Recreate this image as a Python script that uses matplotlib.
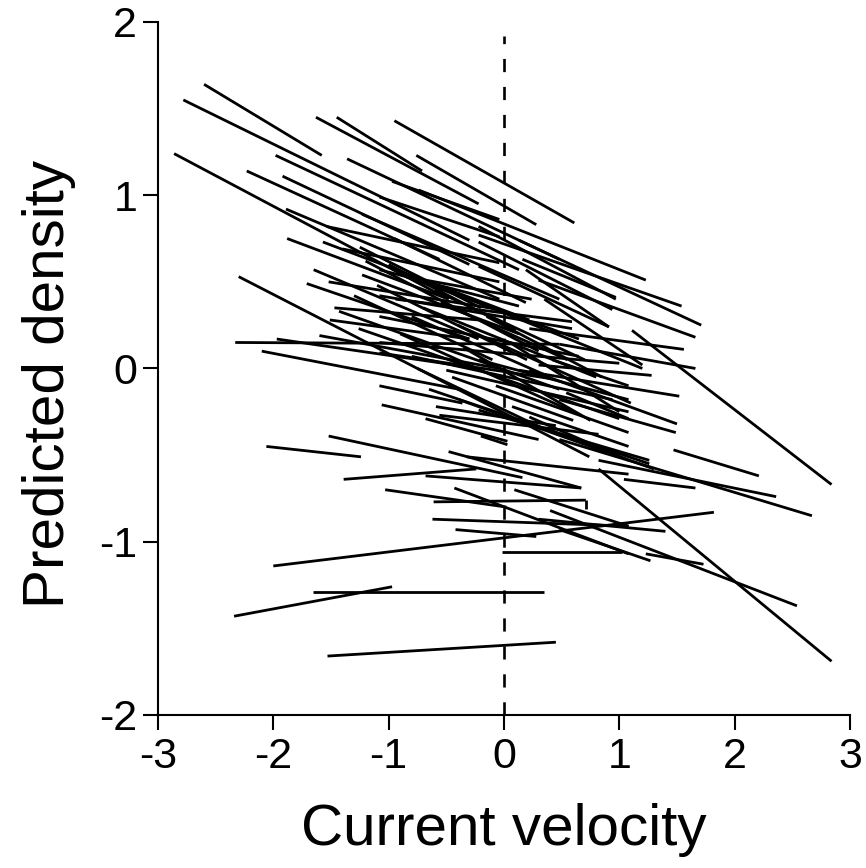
import matplotlib
matplotlib.use('Agg')
import matplotlib.pyplot as plt

# 字体, 负号用普通'-'
plt.rcParams['font.family'] = ['Liberation Sans', 'DejaVu Sans']
plt.rcParams['axes.unicode_minus'] = False

# 每条线段: 起点x, 起点y, 终点x, 终点y
x_start = [-2.60, -2.78, -2.86, -1.63, -1.45, -0.95, -0.76, -1.98, -1.36, -2.23,
           -1.92, -1.89, -1.23, -1.88, -1.57, -1.65, -1.71, -2.30, -1.47, -1.51,
           -2.33, -1.97, -1.60, -2.10, -1.23, -0.85, -1.06, -1.52, -2.06, -1.39,
           -1.03, -2.00, -2.34, -1.66, -1.53, -0.20, -0.68, -0.48, -0.32, -0.68,
           -0.43, -0.61, 0.71, 0.09, -0.62, -0.42, -0.02, 1.04, 0.82, 0.48,
           0.82, 0.40, 0.30, 0.48, 1.23, -0.74, -0.22, 0.13, 0.30, 1.11,
           0.22, 0.48, 0.30, 0.13, 0.22, 0.48, 1.47,
           -1.08, -0.85, 0.16, 0.19, -1.08, -0.94, -1.08, -1.08, -1.08, -0.80,
           -0.59, -0.56, 0.42, 0.54, -1.54, -1.08, -0.97, -1.40, -1.52, -0.22,
           -0.22, -0.22, -1.08, -0.50, -0.22, -0.07, 0.07, 0.22, -0.65, -0.39,
           -0.22, -1.43, -1.26, -0.95, -1.20, -0.70, -0.40, -1.30, -0.90, -0.60,
           -0.30, -1.10, -0.80, -0.55, -0.35, -1.00, -0.75, -0.15, 0.05, -0.45,
           -1.25, 0.35]
y_start = [1.64, 1.55, 1.24, 1.45, 1.45, 1.43, 1.23, 1.23, 1.21, 1.14,
           1.11, 0.92, 0.89, 0.75, 0.73, 0.57, 0.49, 0.53, 0.35, 0.28,
           0.15, 0.17, 0.19, 0.10, 0.54, 0.53, -0.21, -0.39, -0.45, -0.64,
           -0.70, -1.14, -1.43, -1.29, -1.66, -0.39, -0.29, -0.48, -0.51, -0.62,
           -0.69, -0.77, -0.76, -0.70, -0.87, -0.93, -1.06, -0.64, -0.53, -0.41,
           -0.58, -0.82, -0.87, -0.93, -1.07, 1.03, 0.77, 0.74, 0.51, 0.22,
           0.23, 0.14, 0.02, -0.01, -0.01, -0.18, -0.47,
           0.57, 0.53, 0.63, 0.57, 0.42, 0.40, 0.30, 0.15, 0.09, 0.07,
           -0.22, -0.27, 0.05, -0.14, 0.82, 0.99, 1.08, 0.69, 0.50, 0.82,
           0.73, 0.59, -0.10, -0.01, 0.05, -0.10, -0.22, -0.28, -0.12, -0.18,
           -0.24, 0.33, 0.23, 0.75, 0.62, 0.35, 0.25, 0.42, 0.20, 0.45,
           0.40, 0.48, 0.30, 0.38, 0.12, 0.60, 0.00, 0.30, 0.15, -0.05,
           0.70, 0.40]
x_end = [-1.58, -0.30, -0.48, -0.22, -0.71, 0.61, 0.28, 0.13, 0.48, -0.56,
         -0.30, -0.04, 0.48, -0.48, 0.22, -0.22, -0.30, 0.74, -0.22, -0.30,
         0.48, -0.22, -0.04, -0.39, 0.13, 0.65, 0.30, 0.16, -1.24, -0.24,
         0.02, 1.82, -0.97, 0.35, 0.45, 0.03, 0.03, 0.67, 1.08, 0.67,
         1.08, 0.71, 0.71, 1.08, 1.08, 0.28, 1.02, 1.66, 2.36, 2.67,
         2.84, 2.54, 1.40, 1.27, 1.73, 1.23, 1.54, 1.71, 1.66, 2.84,
         1.56, 1.66, 1.28, 1.52, 1.50, 1.49, 2.21,
         0.13, 0.24, 0.97, 0.91, 0.59, 0.59, 0.65, 1.00, 0.42, 0.94,
         0.45, 0.82, 1.08, 1.08, -0.04, -0.04, -0.04, -0.04, -0.04, 0.97,
         0.94, 0.91, -0.36, 1.08, 1.08, 1.08, 1.08, 1.08, 1.26, 1.30,
         1.26, 0.48, 1.00, 0.19, 0.30, 0.80, 1.10, -0.10, 0.60, 0.70,
         1.20, 0.20, 0.40, 0.55, 0.75, 0.10, 0.35, 0.85, 1.00, 0.60,
         -0.20, 1.20]
y_end = [1.23, 0.74, 0.40, 0.95, 1.14, 0.84, 0.83, 0.57, 0.63, 0.63,
         0.60, 0.40, 0.40, 0.40, 0.28, 0.17, 0.17, -0.51, 0.28, 0.17,
         0.14, 0.00, 0.00, -0.12, 0.20, 0.17, -0.41, -0.63, -0.51, -0.58,
         -0.80, -0.83, -1.26, -1.29, -1.58, -0.44, -0.42, -0.69, -0.61, -0.69,
         -1.07, -0.76, -0.81, -0.91, -0.91, -0.97, -1.06, -0.69, -0.74, -0.85,
         -1.69, -1.37, -0.94, -1.11, -1.13, 0.51, 0.36, 0.25, 0.18, -0.67,
         0.11, 0.00, -0.04, -0.16, -0.32, -0.37, -0.62,
         0.36, 0.40, 0.41, 0.24, 0.23, 0.27, 0.07, 0.03, -0.06, -0.18,
         -0.33, -0.38, -0.10, -0.29, 0.61, 0.76, 0.86, 0.50, 0.34, 0.40,
         0.34, 0.24, -0.20, -0.25, -0.18, -0.37, -0.45, -0.53, -0.55, -0.58,
         -0.53, -0.12, -0.29, 0.38, 0.10, -0.05, -0.20, 0.05, -0.25, 0.05,
         0.00, 0.05, -0.05, 0.05, -0.30, 0.22, -0.35, -0.05, -0.25, -0.30,
         0.35, 0.02]

x_ticks = [-3, -2, -1, 0, 1, 2, 3]
y_ticks = [-2, -1, 0, 1, 2]

fig = plt.figure(figsize=(8.66, 8.68), dpi=100)
ax = fig.add_axes([0.1824, 0.1763, 0.7991, 0.7984])

# 画线段
for x0, y0, x1, y1 in zip(x_start, y_start, x_end, y_end):
    ax.plot([x0, x1], [y0, y1], color='black', linewidth=2.0, solid_capstyle='butt')

# 虚线 x=0
ax.plot([0, 0], [-2, 1.92], color='black', linewidth=1.9, dashes=(5.0, 5.6))

ax.set_xlim(-3, 3)
ax.set_ylim(-2, 2)
ax.set_xticks(x_ticks)
ax.set_yticks(y_ticks)
ax.spines['top'].set_visible(False)
ax.spines['right'].set_visible(False)
ax.spines['left'].set_linewidth(1.5)
ax.spines['bottom'].set_linewidth(1.5)
ax.tick_params(axis='both', direction='out', length=11, width=1.5, labelsize=31)
ax.tick_params(axis='x', pad=5)
ax.tick_params(axis='y', pad=4)

ax.set_xlabel('Current velocity', fontsize=42, va='center')
ax.set_ylabel('Predicted density', fontsize=42, va='center')
ax.xaxis.set_label_coords(0.5, -0.166)
ax.yaxis.set_label_coords(-0.1575, 0.477)

plt.savefig('out.png', dpi=100)
